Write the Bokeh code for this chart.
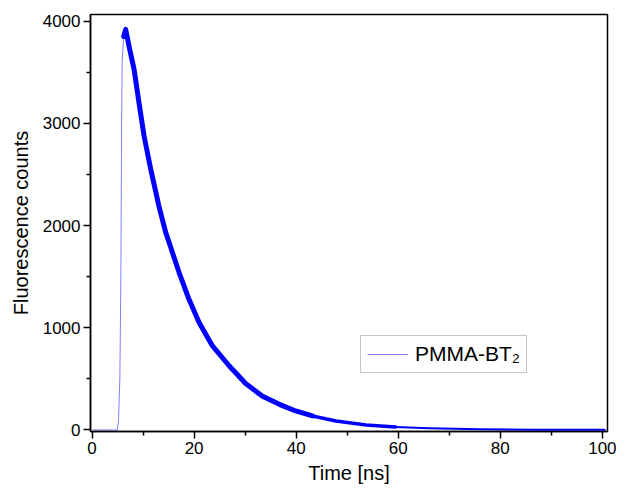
import numpy as np
from bokeh.plotting import figure
from bokeh.models import Range1d, Legend, LegendItem, FixedTicker
from bokeh.embed import file_html
from bokeh.resources import INLINE

# Time-resolved fluorescence decay of PMMA-BT2
time_ns = [0.0, 4.95, 5.2, 5.45, 5.65, 5.8, 5.9, 6.2, 6.6, 7.25, 8.24, 9.2, 10.2,
           11.5, 13.1, 14.45, 15.4, 17.06, 19.0, 21.0, 23.6, 26.9, 30.1, 33.4,
           36.7, 39.9, 43.2, 47.8, 53.7, 59.5, 66.0, 76.0, 86.0, 100.6]
counts = [0, 0, 100, 500, 1500, 3000, 3600, 3850, 3919, 3755, 3528, 3202, 2875,
          2550, 2191, 1931, 1790, 1540, 1278, 1050, 822, 626, 455, 330,
          251, 186, 137, 88, 49, 29, 18, 7, 3, 1]

x_ticks = [0, 20, 40, 60, 80, 100]
x_minor = [10, 30, 50, 70, 90]
y_ticks = [0, 1000, 2000, 3000, 4000]
y_minor = [500, 1500, 2500, 3500]
series_label = "PMMA-BT\u2082"

FONT = "Liberation Sans"
BLUE = "#0000ff"

p = figure(output_backend="svg", toolbar_location=None,
           frame_width=517, frame_height=417,
           min_border_left=90, min_border_right=13,
           min_border_top=14, min_border_bottom=53,
           x_range=Range1d(-0.3, 101.0), y_range=Range1d(-15, 4065))
p.background_fill_color = "white"
p.border_fill_color = "white"
p.grid.visible = False
p.outline_line_color = "black"
p.outline_line_width = 1.5

t = np.array(time_ns)
c = np.array(counts)
i_thick = int(np.searchsorted(t, 6.2))
i_mid = int(np.searchsorted(t, 43.2))
i_tail = int(np.searchsorted(t, 59.5))

rise = p.line(t[:i_thick + 1], c[:i_thick + 1], line_color=BLUE, line_width=1,
              line_alpha=0.5)
p.line(t[i_thick:i_mid + 1], c[i_thick:i_mid + 1], line_color=BLUE, line_width=5,
       line_join="round", line_cap="round")
p.line(t[i_mid:i_tail + 1], c[i_mid:i_tail + 1], line_color=BLUE, line_width=3.5,
       line_join="round", line_cap="round")
p.line(t[i_tail:], c[i_tail:], line_color=BLUE, line_width=2, line_join="round")

for ax in (p.xaxis[0], p.yaxis[0]):
    ax.axis_line_width = 1.5
    ax.major_tick_line_width = 1.5
    ax.minor_tick_line_width = 1.5
    ax.major_tick_in = 0
    ax.major_tick_out = 7
    ax.minor_tick_in = 0
    ax.minor_tick_out = 4
    ax.major_label_text_font = FONT
    ax.major_label_text_font_size = "17px"
    ax.major_label_text_color = "black"
    ax.axis_label_text_font = FONT
    ax.axis_label_text_font_size = "20px"
    ax.axis_label_text_font_style = "normal"
    ax.axis_label_text_color = "black"

p.xaxis.ticker = FixedTicker(ticks=x_ticks, minor_ticks=x_minor)
p.yaxis.ticker = FixedTicker(ticks=y_ticks, minor_ticks=y_minor)
p.xaxis.axis_label = "Time [ns]"
p.yaxis.axis_label = "Fluorescence counts"
p.xaxis.major_label_standoff = 3
p.yaxis.major_label_standoff = 3
p.xaxis.axis_label_standoff = 5
p.yaxis.axis_label_standoff = 8

legend = Legend(items=[LegendItem(label=series_label, renderers=[rise])],
                location=(270, 58), orientation="vertical",
                label_text_font=FONT, label_text_font_size="21px",
                label_text_color="black",
                glyph_width=41, glyph_height=20, label_standoff=7,
                padding=6, margin=0, spacing=0,
                border_line_color="#8c8c8c", border_line_width=1.5,
                background_fill_alpha=1.0)
p.add_layout(legend)

open("out.html", "w").write(file_html(p, INLINE))
